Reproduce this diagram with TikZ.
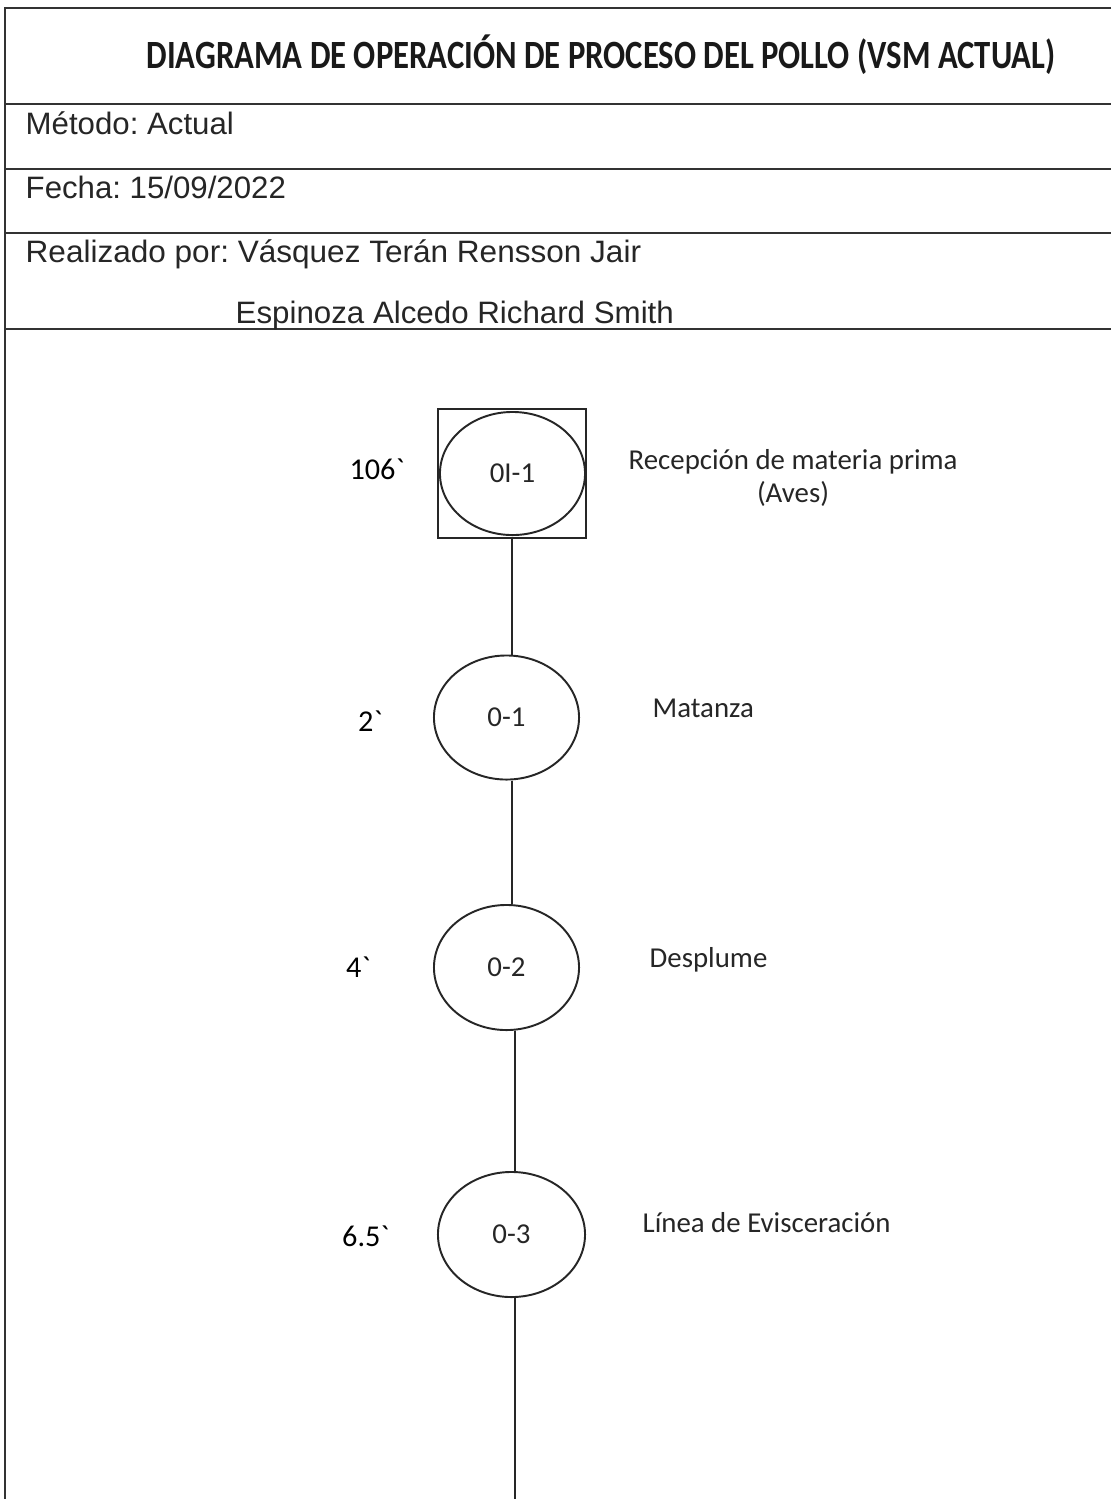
\documentclass[tikz,border=0pt]{standalone}
\usepackage{fontspec}
\setmainfont{Liberation Sans}
\newfontfamily\calfont{Carlito}
\usetikzlibrary{shapes.geometric}
\frenchspacing
% stretch or squeeze a text horizontally to a given width
\newcommand{\fitw}[2]{\resizebox{#1}{\height}{#2}}
\begin{document}
\begin{tikzpicture}[x=0.01cm,y=-0.01cm,
  rule/.style={draw=black!80,line width=0.75pt},
  head/.style={inner sep=0pt,font=\fontsize{8.8}{10}\selectfont,text=black!85},
  opcircle/.style={draw=black!85,ellipse,line width=0.55pt,inner sep=0pt,
    minimum width=1.45cm,minimum height=1.24cm,font=\calfont\fontsize{8.2}{10}\selectfont,text=black!85},
  inspbox/.style={draw=black!85,rectangle,line width=0.6pt,inner sep=0pt,
    minimum width=1.48cm,minimum height=1.29cm},
  timelbl/.style={inner sep=0pt,anchor=base east,font=\calfont\fontsize{8.6}{10}\selectfont},
  desclbl/.style={inner sep=0pt,anchor=base west,font=\calfont\fontsize{8.2}{10}\selectfont,text=black!85},
  link/.style={draw=black!85,line width=0.6pt}]
\useasboundingbox (0,0) rectangle (1111,1499);
\fill[white] (0,0) rectangle (1111,1499);

% header table
\draw[rule] (1111,8) -- (5,8) -- (5,1499);
\draw[rule] (5,104) -- (1111,104);
\draw[rule] (5,169) -- (1111,169);
\draw[rule] (5,233) -- (1111,233);
\draw[rule] (5,329) -- (1111,329);

\node[inner sep=0pt,anchor=base,text=black!90] (title) at (601,68)
  {\fitw{258.4pt}{\calfont\bfseries\fontsize{11.4}{13}\selectfont DIAGRAMA DE OPERACIÓN DE PROCESO DEL POLLO (VSM ACTUAL)}};
\node[head,anchor=base west] (metodo) at (25,134) {\fitw{59.2pt}{Método: Actual}};
\node[head,anchor=base west] (fecha) at (25,198) {\fitw{74pt}{Fecha: 15/09/2022}};
\node[head,anchor=base west] (autor1) at (25,262) {\fitw{175pt}{Realizado por: Vásquez Terán Rensson Jair}};
\node[head,anchor=base west] (autor2) at (235,323) {\fitw{124.6pt}{Espinoza Alcedo Richard Smith}};

% process chart
\node[inspbox] (r1) at (512,473.5) {};
\node[opcircle,minimum width=1.45cm,minimum height=1.23cm] (e1) at (512.5,473.5) {0I-1};
\node[opcircle] (e2) at (506.5,717.5) {0-1};
\node[opcircle,minimum height=1.25cm] (e3) at (506.5,967.5) {0-2};
\node[opcircle,minimum width=1.47cm,minimum height=1.25cm] (e4) at (511.5,1234.5) {0-3};
\coordinate (tail) at (515,1499);

\draw[link] (r1.south) -- (r1.south |- e2.north);
\draw[link] (e2.south -| r1.south) -- (r1.south |- e3.north);
\draw[link] (e3.south -| tail) -- (tail |- e4.north);
\draw[link] (e4.south -| tail) -- (tail);

% times
\node[timelbl] (t1) at (405,479) {106`};
\node[timelbl] (t2) at (383,731) {2`};
\node[timelbl] (t3) at (371,977) {4`};
\node[timelbl] (t4) at (390,1246) {6.5`};

% descriptions
\node[desclbl] (d1) at (628,469) {Recepción de materia prima};
\node[desclbl,anchor=base] (d1b) at (793,502) {(Aves)};
\node[desclbl] (d2) at (652,717) {Matanza};
\node[desclbl] (d3) at (649,967) {Desplume};
\node[desclbl] (d4) at (642,1232) {Línea de Evisceración};
\end{tikzpicture}
\end{document}
